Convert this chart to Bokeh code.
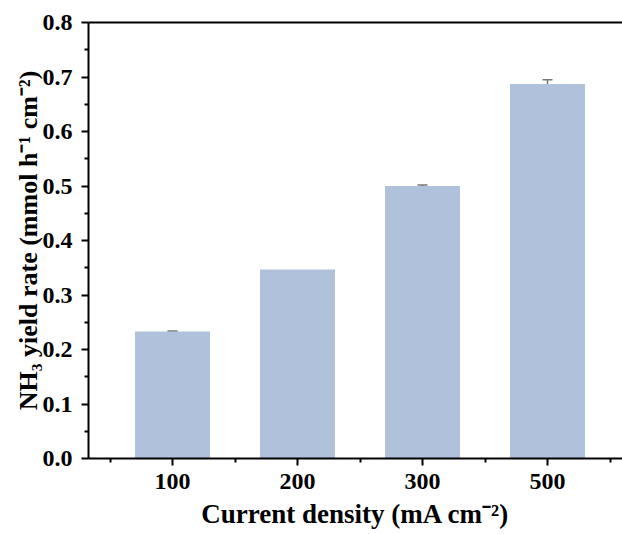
from bokeh.plotting import figure
from bokeh.models import FixedTicker, LinearAxis, Range1d, Whisker, ColumnDataSource
from bokeh.embed import file_html
from bokeh.resources import INLINE

categories = ["100", "200", "300", "500"]
yield_rate = [0.233, 0.347, 0.500, 0.687]
yield_err = [0.001, 0.0, 0.002, 0.008]
y_ticks = [0.0, 0.1, 0.2, 0.3, 0.4, 0.5, 0.6, 0.7, 0.8]

xpos = [i + 1 for i in range(len(categories))]
src = ColumnDataSource(dict(x=xpos, top=yield_rate))
err_idx = [i for i, e in enumerate(yield_err) if e > 0]
esrc = ColumnDataSource(dict(
    x=[xpos[i] for i in err_idx],
    upper=[yield_rate[i] + yield_err[i] for i in err_idx],
    lower=[yield_rate[i] - yield_err[i] for i in err_idx],
))

FONT = "Liberation Serif"

p = figure(width=622, height=534, output_backend="svg", toolbar_location=None,
           x_range=Range1d(0.328, 4.6), y_range=Range1d(0, 0.8),
           min_border_left=88, min_border_top=22, min_border_bottom=76, min_border_right=0)
p.outline_line_color = None
p.grid.grid_line_color = None
p.background_fill_color = "white"
p.border_fill_color = "white"

p.vbar(x="x", top="top", width=0.6, bottom=0, source=src,
       fill_color="#b0c1dc", line_color=None)
w = Whisker(base="x", upper="upper", lower="lower", source=esrc,
            line_color="#777777", line_width=1.5)
for h in (w.upper_head, w.lower_head):
    h.size = 10
    h.line_color = "#777777"
    h.line_width = 1.5
p.add_layout(w)

xa = p.xaxis[0]
xa.ticker = FixedTicker(ticks=xpos, minor_ticks=[x - 0.5 for x in xpos] + [xpos[-1] + 0.5])
xa.major_label_overrides = {x: c for x, c in zip(xpos, categories)}
xa.axis_label = "Current density (mA cm\u207b\u00b2)"

ya = p.yaxis[0]
ya.ticker = FixedTicker(ticks=y_ticks, minor_ticks=[t + 0.05 for t in y_ticks[:-1]])
ya.major_label_overrides = {t: f"{t:.1f}" for t in y_ticks}
ya.axis_label = "NH\u2083 yield rate (mmol h\u207b\u00b9 cm\u207b\u00b2)"

for ax in (xa, ya):
    ax.axis_line_width = 2
    ax.axis_line_color = "black"
    ax.major_tick_line_width = 2
    ax.minor_tick_line_width = 2
    ax.major_tick_line_color = "black"
    ax.minor_tick_line_color = "black"
    ax.major_tick_out = 7
    ax.major_tick_in = 0
    ax.minor_tick_out = 4
    ax.minor_tick_in = 0
    ax.major_label_text_font = FONT
    ax.major_label_text_font_style = "bold"
    ax.major_label_text_font_size = "24px"
    ax.major_label_text_color = "black"
    ax.axis_label_text_font = FONT
    ax.axis_label_text_font_style = "bold"
    ax.axis_label_text_color = "black"

xa.major_label_standoff = 8
xa.axis_label_text_font_size = "27px"
xa.axis_label_standoff = 7
ya.major_label_standoff = 9
ya.axis_label_text_font_size = "26px"
ya.axis_label_standoff = -3

top = LinearAxis(ticker=FixedTicker(ticks=[]), axis_line_width=2, axis_line_color="black",
                 major_tick_line_color=None, minor_tick_line_color=None,
                 major_label_text_font_size="0px", major_label_standoff=0)
p.add_layout(top, "above")

open("out.html", "w").write(file_html(p, INLINE))
